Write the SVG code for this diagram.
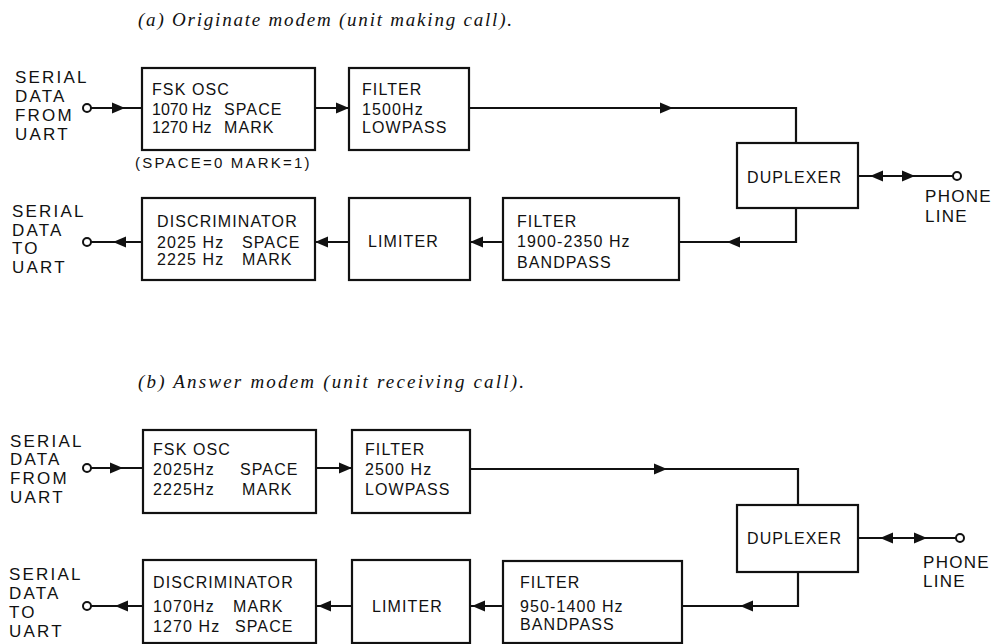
<svg xmlns="http://www.w3.org/2000/svg" xmlns:xlink="http://www.w3.org/1999/xlink" width="994" height="644" viewBox="0 0 994 644">
<style>
.box{fill:#fff;stroke:#111;stroke-width:2.2}
.ln{fill:none;stroke:#111;stroke-width:2.2}
.term{fill:#fff;stroke:#111;stroke-width:2}
.t{font-family:"Liberation Sans",Arial,sans-serif;font-size:16px;letter-spacing:1.1px;fill:#111}
.d{letter-spacing:0}
.s{font-family:"Liberation Sans",Arial,sans-serif;font-size:17px;letter-spacing:2.2px;fill:#111}
.p{font-family:"Liberation Sans",Arial,sans-serif;font-size:17px;letter-spacing:1.3px;fill:#111}
.n{font-family:"Liberation Sans",Arial,sans-serif;font-size:15px;letter-spacing:2.2px;fill:#111}
.ttl{font-family:"Liberation Serif","Times New Roman",serif;font-style:italic;font-size:19px;fill:#111}
</style>
<defs>
<polygon id="ah" points="0,0 -13,-5.5 -13,5.5" fill="#111"/>
</defs>
<rect width="994" height="644" fill="#fff"/>

<text class="ttl" x="138" y="26" textLength="374" lengthAdjust="spacing">(a) Originate modem (unit making call).</text>
<text class="ttl" x="138" y="388" textLength="386" lengthAdjust="spacing">(b) Answer modem (unit receiving call).</text>

<!-- (a) -->
<g id="a-in"><text class="s" x="15" y="83">SERIAL</text><text class="s" x="15" y="102">DATA</text><text class="s" x="15" y="121">FROM</text><text class="s" x="15" y="140">UART</text></g>
<g id="a-fsk"><rect class="box" x="142" y="68" width="173" height="82"/><text class="t" x="152" y="95">FSK OSC</text><text class="t" x="152" y="115"><tspan class="d">1070 Hz</tspan><tspan x="224">SPACE</tspan></text><text class="t" x="152" y="133"><tspan class="d">1270 Hz</tspan><tspan x="224">MARK</tspan></text></g>
<g id="a-note"><text class="n" x="135" y="168">(SPACE=0 MARK=1)</text></g>
<g id="a-lpf"><rect class="box" x="349" y="68" width="120" height="82"/><text class="t" x="362" y="95">FILTER</text><text class="t" x="362" y="115">1500Hz</text><text class="t" x="362" y="133">LOWPASS</text></g>
<g id="a-dup"><rect class="box" x="737" y="143" width="121" height="65"/><text class="t" x="747" y="183">DUPLEXER</text></g>
<g id="a-bpf"><rect class="box" x="503" y="198" width="176" height="82"/><text class="t" x="517" y="227">FILTER</text><text class="t" x="517" y="247">1900-2350 Hz</text><text class="t" x="517" y="268">BANDPASS</text></g>
<g id="a-lim"><rect class="box" x="349" y="198" width="121" height="82"/><text class="t" x="368" y="247">LIMITER</text></g>
<g id="a-disc"><rect class="box" x="142" y="198" width="173" height="82"/><text class="t" x="157" y="227">DISCRIMINATOR</text><text class="t" x="157" y="248">2025 Hz<tspan x="242">SPACE</tspan></text><text class="t" x="157" y="265">2225 Hz<tspan x="242">MARK</tspan></text></g>
<g id="a-out"><text class="s" x="12" y="217">SERIAL</text><text class="s" x="12" y="236">DATA</text><text class="s" x="12" y="254">TO</text><text class="s" x="12" y="273">UART</text></g>
<g id="a-phone"><text class="p" x="925" y="202">PHONE</text><text class="p" x="925" y="222">LINE</text></g>

<!-- (b) -->
<g id="b-in"><text class="s" x="10" y="447">SERIAL</text><text class="s" x="10" y="465">DATA</text><text class="s" x="10" y="484">FROM</text><text class="s" x="10" y="503">UART</text></g>
<g id="b-fsk"><rect class="box" x="143" y="430" width="173" height="83"/><text class="t" x="153" y="455">FSK OSC</text><text class="t" x="153" y="475">2025Hz<tspan x="240">SPACE</tspan></text><text class="t" x="153" y="495">2225Hz<tspan x="242">MARK</tspan></text></g>
<g id="b-lpf"><rect class="box" x="352" y="430" width="118" height="83"/><text class="t" x="365" y="455">FILTER</text><text class="t" x="365" y="475">2500 Hz</text><text class="t" x="365" y="495">LOWPASS</text></g>
<g id="b-dup"><rect class="box" x="737" y="505" width="121" height="67"/><text class="t" x="747" y="544">DUPLEXER</text></g>
<g id="b-bpf"><rect class="box" x="503" y="561" width="179" height="82"/><text class="t" x="520" y="588">FILTER</text><text class="t" x="520" y="612">950-1400 Hz</text><text class="t" x="520" y="630">BANDPASS</text></g>
<g id="b-lim"><rect class="box" x="352" y="560" width="118" height="83"/><text class="t" x="372" y="612">LIMITER</text></g>
<g id="b-disc"><rect class="box" x="143" y="560" width="173" height="83"/><text class="t" x="153" y="588">DISCRIMINATOR</text><text class="t" x="153" y="612">1070Hz<tspan x="233">MARK</tspan></text><text class="t" x="153" y="632">1270 Hz<tspan x="235">SPACE</tspan></text></g>
<g id="b-out"><text class="s" x="9" y="580">SERIAL</text><text class="s" x="9" y="599">DATA</text><text class="s" x="9" y="618">TO</text><text class="s" x="9" y="637">UART</text></g>
<g id="b-phone"><text class="p" x="923" y="568">PHONE</text><text class="p" x="923" y="587">LINE</text></g>

<g id="connectors">
<!-- (a) -->
<path class="ln" d="M91,108 H142"/><use xlink:href="#ah" transform="translate(125,108)"/>
<path class="ln" d="M315,108 H349"/><use xlink:href="#ah" transform="translate(349,108)"/>
<path class="ln" d="M469,108 H796 V143"/><use xlink:href="#ah" transform="translate(673,108)"/>
<path class="ln" d="M796,208 V242 H679"/><use xlink:href="#ah" transform="translate(727,242) rotate(180)"/>
<path class="ln" d="M503,242 H470"/><use xlink:href="#ah" transform="translate(470,242) rotate(180)"/>
<path class="ln" d="M349,242 H315"/><use xlink:href="#ah" transform="translate(315,242) rotate(180)"/>
<path class="ln" d="M142,242 H91"/><use xlink:href="#ah" transform="translate(113,242) rotate(180)"/>
<path class="ln" d="M858,176 H953"/><use xlink:href="#ah" transform="translate(870,176) rotate(180)"/><use xlink:href="#ah" transform="translate(915,176)"/>
<circle class="term" cx="87" cy="108" r="4"/>
<circle class="term" cx="87" cy="242" r="4"/>
<circle class="term" cx="957" cy="176" r="4"/>
<!-- (b) -->
<path class="ln" d="M91,468 H143"/><use xlink:href="#ah" transform="translate(123,468)"/>
<path class="ln" d="M316,468 H352"/><use xlink:href="#ah" transform="translate(352,468)"/>
<path class="ln" d="M470,469 H798 V505"/><use xlink:href="#ah" transform="translate(667,469)"/>
<path class="ln" d="M798,572 V606 H682"/><use xlink:href="#ah" transform="translate(740,606) rotate(180)"/>
<path class="ln" d="M503,606 H470"/><use xlink:href="#ah" transform="translate(472,606) rotate(180)"/>
<path class="ln" d="M352,606 H316"/><use xlink:href="#ah" transform="translate(318,606) rotate(180)"/>
<path class="ln" d="M143,606 H91"/><use xlink:href="#ah" transform="translate(115,606) rotate(180)"/>
<path class="ln" d="M858,538 H956"/><use xlink:href="#ah" transform="translate(880,538) rotate(180)"/><use xlink:href="#ah" transform="translate(927,538)"/>
<circle class="term" cx="87" cy="468" r="4"/>
<circle class="term" cx="87" cy="606" r="4"/>
<circle class="term" cx="960" cy="538" r="4"/>
</g>
</svg>
